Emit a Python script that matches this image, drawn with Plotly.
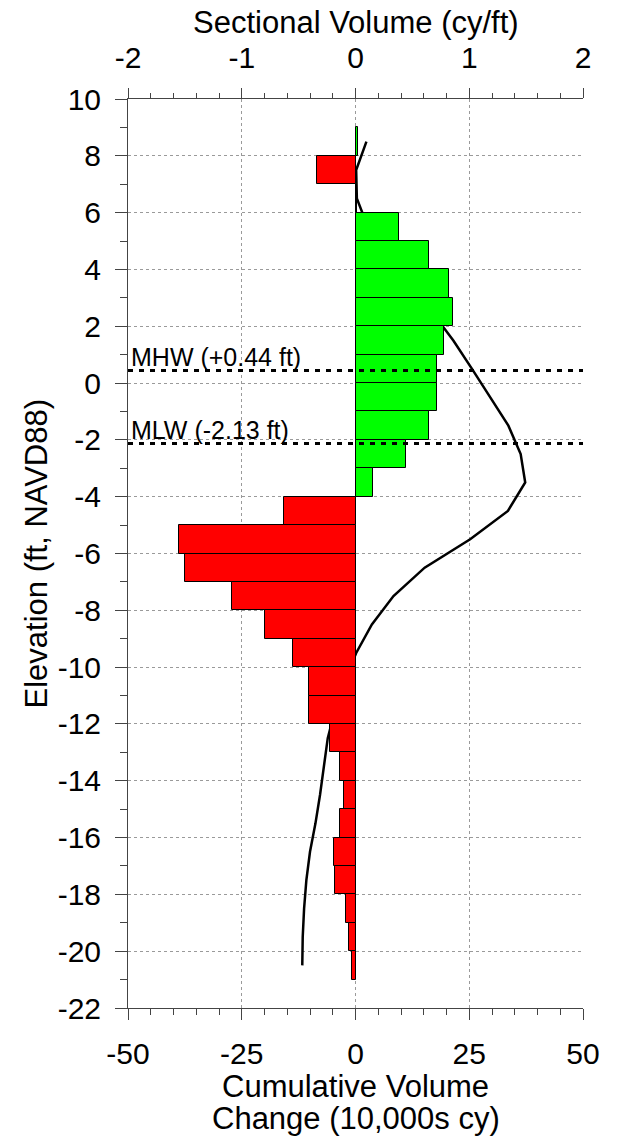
import plotly.graph_objects as go

# Elevation bin mid-points (ft, NAVD88), 1-ft bins from +9 down to -21
elev_mid = [8.5, 7.5, 6.5, 5.5, 4.5, 3.5, 2.5, 1.5, 0.5, -0.5, -1.5, -2.5, -3.5,
            -4.5, -5.5, -6.5, -7.5, -8.5, -9.5, -10.5, -11.5, -12.5, -13.5,
            -14.5, -15.5, -16.5, -17.5, -18.5, -19.5, -20.5]

# Sectional volume per bin (cy/ft)
sectional = [0.024, -0.34, 0.015, 0.38, 0.65, 0.82, 0.855, 0.78, 0.72, 0.715,
             0.645, 0.44, 0.155, -0.63, -1.553, -1.495, -1.09, -0.80, -0.548,
             -0.41, -0.407, -0.228, -0.14, -0.104, -0.14, -0.192, -0.176,
             -0.082, -0.055, -0.032]

# Cumulative volume change (10,000s cy)
cumulative = [2.4, 0.15, 0.3, 2.7, 7.1, 11.6, 16.8, 21.5, 25.6, 29.6, 33.6,
              36.3, 37.3, 33.5, 25.2, 15.2, 8.35, 3.6, 0.15, -2.4, -4.5, -6.1,
              -6.9, -7.8, -8.8, -10.0, -10.8, -11.3, -11.6, -11.7]

# Tidal datums
datum_names = ["MHW (+0.44 ft)", "MLW (-2.13 ft)"]
datum_elev = [0.44, -2.13]

# Tick values and labels
y_tickvals = [10, 8, 6, 4, 2, 0, -2, -4, -6, -8, -10, -12, -14, -16, -18, -20, -22]
y_ticktext = ["10", "8", "6", "4", "2", "0", "-2", "-4", "-6", "-8", "-10", "-12",
              "-14", "-16", "-18", "-20", "-22"]
cum_tickvals = [-50, -25, 0, 25, 50]
cum_ticktext = ["-50", "-25", "0", "25", "50"]
sec_tickvals = [-2, -1, 0, 1, 2]
sec_ticktext = ["-2", "-1", "0", "1", "2"]

FONT = "Liberation Sans, Arial, sans-serif"
AXC = "#444444"
GRIDC = "#9a9a9a"
TICKF = 30
TITLEF = 31

bar_colors = ["#00ff00" if v >= 0 else "#ff0000" for v in sectional]

fig = go.Figure()
fig.add_trace(go.Bar(
    x=sectional, y=elev_mid, orientation="h", width=1.0,
    marker=dict(color=bar_colors, line=dict(color="black", width=1)),
    xaxis="x2", yaxis="y", showlegend=False,
))
fig.add_trace(go.Scatter(
    x=cumulative, y=elev_mid, mode="lines",
    line=dict(color="black", width=2.5),
    xaxis="x", yaxis="y", showlegend=False,
))

for name, e in zip(datum_names, datum_elev):
    fig.add_shape(type="line", xref="paper", yref="y", x0=0, x1=1, y0=e, y1=e,
                  line=dict(color="black", width=3, dash="5px,6px"))
    fig.add_annotation(text=name, xref="paper", yref="y", x=0.003, y=e,
                       xanchor="left", yanchor="middle", showarrow=False,
                       yshift=14, font=dict(family=FONT, size=25, color="black"))

# Axis titles as annotations for precise placement
fig.add_annotation(text="Sectional Volume (cy/ft)", xref="paper", yref="paper",
                   x=0.5, y=1, xanchor="center", yanchor="middle", yshift=77,
                   showarrow=False, font=dict(family=FONT, size=TITLEF, color="black"))
fig.add_annotation(text="Cumulative Volume", xref="paper", yref="paper",
                   x=0.5, y=0, xanchor="center", yanchor="middle", yshift=-78,
                   showarrow=False, font=dict(family=FONT, size=TITLEF, color="black"))
fig.add_annotation(text="Change (10,000s cy)", xref="paper", yref="paper",
                   x=0.5, y=0, xanchor="center", yanchor="middle", yshift=-110,
                   showarrow=False, font=dict(family=FONT, size=TITLEF, color="black"))
fig.add_annotation(text="Elevation (ft, NAVD88)", xref="paper", yref="paper",
                   x=0, y=0.5, xanchor="center", yanchor="middle", xshift=-92,
                   textangle=-90, showarrow=False,
                   font=dict(family=FONT, size=TITLEF, color="black"))

fig.update_layout(
    width=622, height=1141,
    margin=dict(l=128, r=39, t=99, b=133),
    paper_bgcolor="white", plot_bgcolor="white",
    font=dict(family=FONT, color="black", size=TICKF),
    bargap=0,
    xaxis=dict(
        range=[-50, 50], tickmode="array", tickvals=cum_tickvals, ticktext=cum_ticktext,
        ticks="outside", ticklen=11, tickcolor=AXC, tickwidth=1,
        minor=dict(dtick=5, tick0=0, ticklen=6, tickcolor=AXC, showgrid=False),
        showline=True, linecolor=AXC, linewidth=1,
        showgrid=True, gridcolor=GRIDC, griddash="dot", gridwidth=1,
        zeroline=False, automargin=False,
        tickfont=dict(size=TICKF), ticklabelstandoff=8,
    ),
    xaxis2=dict(
        range=[-2, 2], tickmode="array", tickvals=sec_tickvals, ticktext=sec_ticktext,
        overlaying="x", side="top",
        ticks="outside", ticklen=10, tickcolor=AXC, tickwidth=1,
        minor=dict(dtick=0.2, tick0=0, ticklen=5, tickcolor=AXC, showgrid=False),
        showline=True, linecolor=AXC, linewidth=1,
        showgrid=False, zeroline=False, automargin=False,
        tickfont=dict(size=TICKF), ticklabelstandoff=8,
    ),
    yaxis=dict(
        range=[-22, 10], tickmode="array", tickvals=y_tickvals, ticktext=y_ticktext,
        ticks="outside", ticklen=12, tickcolor=AXC, tickwidth=1,
        minor=dict(dtick=1, tick0=0, ticklen=7, tickcolor=AXC, showgrid=False),
        showline=True, linecolor=AXC, linewidth=1,
        showgrid=True, gridcolor=GRIDC, griddash="dot", gridwidth=1,
        zeroline=False, automargin=False,
        tickfont=dict(size=TICKF), ticklabelstandoff=8,
    ),
)

fig.write_html("out.html", config={"displayModeBar": False},
               post_script="document.body.style.margin='0';")
